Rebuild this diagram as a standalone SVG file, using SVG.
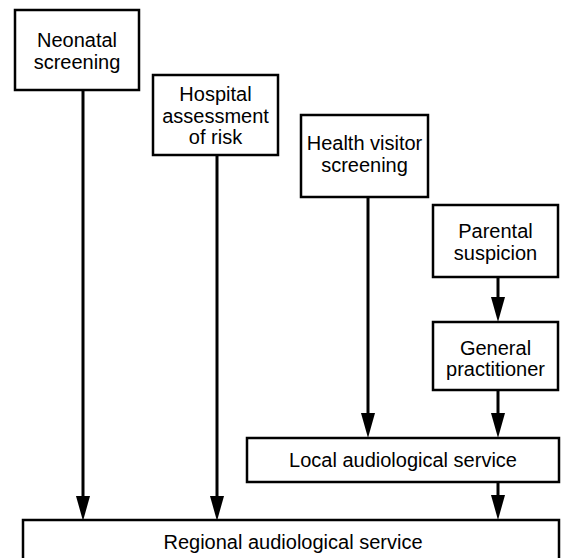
<svg xmlns="http://www.w3.org/2000/svg" width="563" height="558" viewBox="0 0 563 558">
<defs>
<marker id="arr" markerUnits="userSpaceOnUse" markerWidth="16" markerHeight="26" refX="15" refY="7" orient="auto" viewBox="0 0 16 14">
<path d="M0,0 L15,7 L0,14 Z" fill="#000"/>
</marker>
<style>
rect{fill:#fff;stroke:#000;stroke-width:2.5}
text{font-family:"Liberation Sans",Arial,sans-serif;font-size:20px;fill:#000;text-anchor:middle}
.c line{stroke:#000;stroke-width:3}
</style>
</defs>
<rect width="563" height="558" fill="#fff" stroke="none" style="fill:#fff;stroke:none"/>
<g class="c" id="connectors">
<line x1="83" y1="90" x2="83" y2="496"/>
<path d="M76,496 L90,496 L83,521 Z"/>
<line x1="217" y1="155" x2="217" y2="496"/>
<path d="M210,496 L224,496 L217,521 Z"/>
<line x1="368" y1="197" x2="368" y2="414"/>
<path d="M361,413 L375,413 L368,438 Z"/>
<line x1="498" y1="277" x2="498" y2="298"/>
<path d="M491,297 L505,297 L498,322 Z"/>
<line x1="498" y1="390" x2="498" y2="414"/>
<path d="M491,413 L505,413 L498,438 Z"/>
<line x1="498" y1="482" x2="498" y2="496"/>
<path d="M491,495 L505,495 L498,520 Z"/>
</g>
<g id="neonatal">
<rect x="15" y="10" width="124" height="80"/>
<text x="77" y="47">Neonatal</text>
<text x="77" y="69">screening</text>
</g>
<g id="hospital">
<rect x="153" y="75" width="125" height="80"/>
<text x="215.5" y="101">Hospital</text>
<text x="215.5" y="123">assessment</text>
<text x="215.5" y="144">of risk</text>
</g>
<g id="health">
<rect x="301" y="115" width="127" height="82"/>
<text x="364.5" y="150">Health visitor</text>
<text x="364.5" y="172">screening</text>
</g>
<g id="parental">
<rect x="433" y="205" width="125" height="72"/>
<text x="495.5" y="238">Parental</text>
<text x="495.5" y="260">suspicion</text>
</g>
<g id="gp">
<rect x="433" y="322" width="125" height="68"/>
<text x="495.5" y="355">General</text>
<text x="495.5" y="376">practitioner</text>
</g>
<g id="local">
<rect x="247" y="438" width="312" height="44"/>
<text x="403" y="467">Local audiological service</text>
</g>
<g id="regional">
<rect x="23" y="520" width="536" height="50"/>
<text x="293" y="549">Regional audiological service</text>
</g>
</svg>
